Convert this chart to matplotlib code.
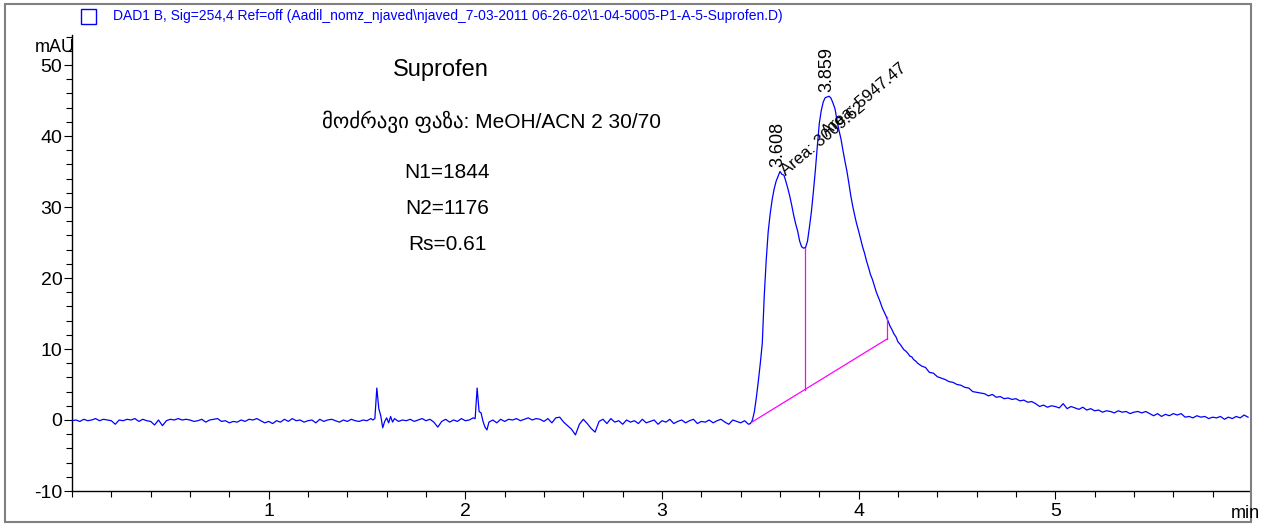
import matplotlib
matplotlib.use("Agg")
import matplotlib.pyplot as plt
from matplotlib.font_manager import fontManager
from matplotlib.patches import Rectangle
from matplotlib.ticker import MultipleLocator

# ---------------- data ----------------
# baseline segment, 0.00 .. 1.52 min, step 0.02
t_base1 = [round(0.02 * i, 2) for i in range(77)]
y_base1 = [-0.1, 0.0, -0.2, 0.1, -0.1, 0.0, 0.2, -0.1, 0.1, 0.0,
           -0.1, -0.6, 0.0, -0.1, 0.1, 0.0, 0.2, -0.2, 0.1, -0.1,
           -0.2, -0.7, 0.0, -0.8, -0.1, 0.1, 0.0, 0.2, 0.0, 0.1,
           0.0, -0.2, -0.1, 0.1, -0.3, 0.0, 0.1, 0.2, -0.2, -0.1,
           -0.4, -0.2, -0.3, 0.0, -0.2, 0.1, 0.0, 0.2, -0.1, -0.4,
           -0.2, -0.5, -0.1, -0.3, 0.1, -0.2, 0.2, -0.1, 0.0, -0.3,
           -0.1, 0.0, -0.4, 0.1, -0.2, 0.0, 0.1, -0.1, -0.3, 0.0,
           -0.2, 0.1, -0.1, -0.2, 0.0, -0.1, 0.2]
# first small spike region, 1.53 .. 1.70 min
t_spike1 = [1.53, 1.54, 1.55, 1.56, 1.57, 1.58, 1.59, 1.60, 1.61, 1.62,
            1.63, 1.64, 1.66, 1.68, 1.70]
y_spike1 = [0.0, 0.2, 4.5, 1.6, 0.6, -1.1, -0.2, 0.3, -0.4, 0.5,
            -0.3, 0.2, -0.2, 0.0, -0.1]
# baseline 1.72 .. 2.04 min
t_base2 = [1.72, 1.74, 1.76, 1.78, 1.80, 1.82, 1.84, 1.86, 1.88, 1.90,
           1.92, 1.94, 1.96, 1.98, 2.00, 2.02, 2.04]
y_base2 = [0.1, -0.2, 0.0, 0.2, -0.1, 0.1, -0.3, -1.0, -0.2, 0.1,
           -0.3, 0.0, -0.2, 0.2, -0.1, 0.0, 0.3]
# second small spike region, 2.05 .. 2.20 min
t_spike2 = [2.05, 2.06, 2.07, 2.08, 2.09, 2.10, 2.11, 2.12, 2.14, 2.16,
            2.18, 2.20]
y_spike2 = [0.2, 4.5, 1.2, 1.0, -0.2, -1.0, -1.4, -0.3, 0.0, -0.4,
            0.1, -0.2]
# baseline 2.22 .. 3.44 min
t_base3 = [round(2.22 + 0.02 * i, 2) for i in range(62)]
y_base3 = [0.1, 0.0, 0.2, -0.1, 0.1, 0.3, 0.0, 0.2, 0.1, -0.2,
           0.2, -0.4, 0.3, 0.4, -0.3, -0.8, -1.3, -2.1, -0.6, 0.1,
           -0.5, -1.2, -1.7, -0.2, 0.1, -0.5, 0.2, -0.3, -0.1, -0.6,
           0.0, -0.3, -0.1, -0.5, 0.1, -0.4, -0.2, 0.0, -0.6, -0.1,
           -0.3, 0.1, -0.5, -0.2, 0.0, -0.4, -0.1, 0.1, -0.5, -0.2,
           -0.3, 0.0, -0.4, -0.1, 0.1, -0.3, -0.6, 0.0, -0.2, -0.4,
           -0.1, -0.6]
# main peak pair, 3.45 .. 4.30 min, step 0.01
t_peak = [round(3.45 + 0.01 * i, 2) for i in range(86)]
y_peak = [-0.5, 0.0, 1.2, 3.2, 5.5, 8.0, 10.8, 17.5, 22.5, 26.5,
          29.0, 31.0, 32.5, 33.6, 34.3, 35.0, 34.6, 34.5, 33.6, 32.6,
          31.5, 30.2, 28.8, 27.6, 26.6, 25.2, 24.4, 24.2, 24.3, 25.2,
          27.2, 29.4, 32.2, 35.2, 38.6, 41.8, 43.6, 44.8, 45.4, 45.5,
          45.6, 45.3, 44.6, 43.8, 42.2, 40.8, 39.6, 38.0, 36.5, 35.1,
          33.4, 31.6, 30.1, 28.8, 27.6, 26.6, 25.5, 24.4, 23.5, 22.4,
          21.5, 20.5, 19.8, 18.9, 18.0, 17.3, 16.6, 15.8, 15.2, 14.6,
          13.9, 13.2, 12.7, 12.1, 11.7, 11.0, 10.7, 10.3, 9.9, 9.7,
          9.4, 9.0, 8.9, 8.5, 8.3, 8.0]
# tailing, 4.32 .. 5.98 min, step 0.02
t_tail = [round(4.32 + 0.02 * i, 2) for i in range(84)]
y_tail = [7.6, 7.4, 6.7, 6.6, 6.1, 5.9, 5.7, 5.4, 5.3, 5.0,
          4.9, 4.6, 4.5, 4.0, 3.9, 3.8, 3.7, 3.4, 3.6, 3.2,
          3.3, 3.0, 3.1, 2.9, 3.0, 2.7, 2.8, 2.5, 2.6, 2.3,
          1.9, 2.1, 1.8, 2.0, 1.9, 1.7, 2.3, 1.6, 1.9, 1.7,
          1.5, 1.8, 1.4, 1.6, 1.3, 1.4, 1.1, 1.3, 1.2, 1.0,
          1.3, 1.1, 1.2, 0.9, 1.1, 1.2, 1.0, 1.2, 0.9, 0.6,
          0.9, 0.5, 0.8, 0.6, 0.9, 0.7, 0.9, 0.4, 0.5, 0.3,
          0.6, 0.4, 0.5, 0.2, 0.4, 0.3, 0.5, 0.1, 0.4, 0.2,
          0.5, 0.3, 0.7, 0.4]

time_min = t_base1 + t_spike1 + t_base2 + t_spike2 + t_base3 + t_peak + t_tail
signal_mau = y_base1 + y_spike1 + y_base2 + y_spike2 + y_base3 + y_peak + y_tail

# integration baseline and peak split
baseline_t = [3.457, 4.144]
baseline_y = [-0.3, 11.4]
split_t = 3.726
split_top = 24.2
end_top = 14.5

peak_times = [3.608, 3.859]
peak_heights = [35.0, 45.6]
peak_areas = ["Area: 3009.62", "Area: 5947.47"]

header = r"DAD1 B, Sig=254,4 Ref=off (Aadil_nomz_njaved\njaved_7-03-2011 06-26-02\1-04-5005-P1-A-5-Suprofen.D)"
compound = "Suprofen"
phase = "მოძრავი ფაზა: MeOH/ACN 2 30/70"
stats = ["N1=1844", "N2=1176", "Rs=0.61"]

# ---------------- fonts ----------------
names = {f.name for f in fontManager.ttflist}
narrow = "Liberation Sans Narrow" if "Liberation Sans Narrow" in names else "Liberation Sans"
plt.rcParams["font.family"] = [narrow, "DejaVu Sans"]
plt.rcParams["axes.unicode_minus"] = False

# ---------------- figure ----------------
W, H = 1263, 524
fig = plt.figure(figsize=(W / 100, H / 100), dpi=100)
fig.patch.set_facecolor("white")

x0, x1 = 72, 1250
ytop, ybot = 35, 491
ax = fig.add_axes([x0 / W, 1 - ybot / H, (x1 - x0) / W, (ybot - ytop) / H])

ax.plot(time_min, signal_mau, color="#0000ff", lw=0.9, zorder=3)

# integration lines
ax.plot(baseline_t, baseline_y, color="#ff00ff", lw=0.9, zorder=4)
split_base = baseline_y[0] + (baseline_y[1] - baseline_y[0]) * (split_t - baseline_t[0]) / (baseline_t[1] - baseline_t[0])
ax.plot([split_t, split_t], [split_base, split_top], color="#ff00ff", lw=0.9, zorder=4)
ax.plot([baseline_t[1], baseline_t[1]], [baseline_y[1], end_top], color="#ff00ff", lw=0.9, zorder=4)

ax.set_xlim(0, 5.99)
ax.set_ylim(-10, (420 - ytop) / 7.1)

for s in ("top", "right"):
    ax.spines[s].set_visible(False)
for s in ("left", "bottom"):
    ax.spines[s].set_linewidth(1.0)

ax.xaxis.set_major_locator(MultipleLocator(1))
ax.xaxis.set_minor_locator(MultipleLocator(0.2))
ax.yaxis.set_major_locator(MultipleLocator(10))
ax.yaxis.set_minor_locator(MultipleLocator(2))
ax.tick_params(axis="both", which="major", direction="out", length=6, width=0.8,
               labelsize=14)
ax.tick_params(axis="both", which="minor", direction="out", length=4, width=0.8)
ax.tick_params(axis="x", pad=3)
ax.tick_params(axis="y", pad=1)
ax.set_xticks([1, 2, 3, 4, 5])
ax.set_xticklabels(["1", "2", "3", "4", "5"])

fig.text(55 / W, 1 - 47 / H, "mAU", fontsize=13, ha="center", va="center")
fig.text(1245 / W, 1 - 513 / H, "min", fontsize=13, ha="center", va="center")

# peak labels
for t, h in zip(peak_times, peak_heights):
    ax.text(t - 0.02, h + 0.6, f"{t:.3f}", rotation=90, ha="center", va="bottom",
            fontsize=13)
ax.text(peak_times[0] + 0.03, peak_heights[0] - 1.0, peak_areas[0], rotation=40,
        rotation_mode="anchor", ha="left", va="bottom", fontsize=12)
ax.text(peak_times[1] - 0.01, peak_heights[1] - 6.0, peak_areas[1], rotation=40,
        rotation_mode="anchor", ha="left", va="bottom", fontsize=12)

# method notes
fig.text(441 / W, 1 - 70 / H, compound, fontsize=17, ha="center", va="center")
fig.text(492 / W, 1 - 122 / H, phase, fontsize=15, ha="center", va="center")
for s, yy in zip(stats, [172, 208, 245]):
    fig.text(447 / W, 1 - yy / H, s, fontsize=15, ha="center", va="center")

# header with legend box
fig.patches.append(Rectangle((81 / W, 1 - 24 / H), 15 / W, 15 / H, transform=fig.transFigure,
                             facecolor="none", edgecolor="#0000ff", lw=1.0))
fig.text(113 / W, 1 - 16 / H, header, fontsize=10, color="#0000ff", ha="left", va="center")

# outer frame
fig.patches.append(Rectangle((5 / W, 1 - 522 / H), 1246 / W, 518 / H, transform=fig.transFigure,
                             facecolor="none", edgecolor="#808080", lw=1.5, zorder=0))

fig.savefig("out.png", dpi=100)
